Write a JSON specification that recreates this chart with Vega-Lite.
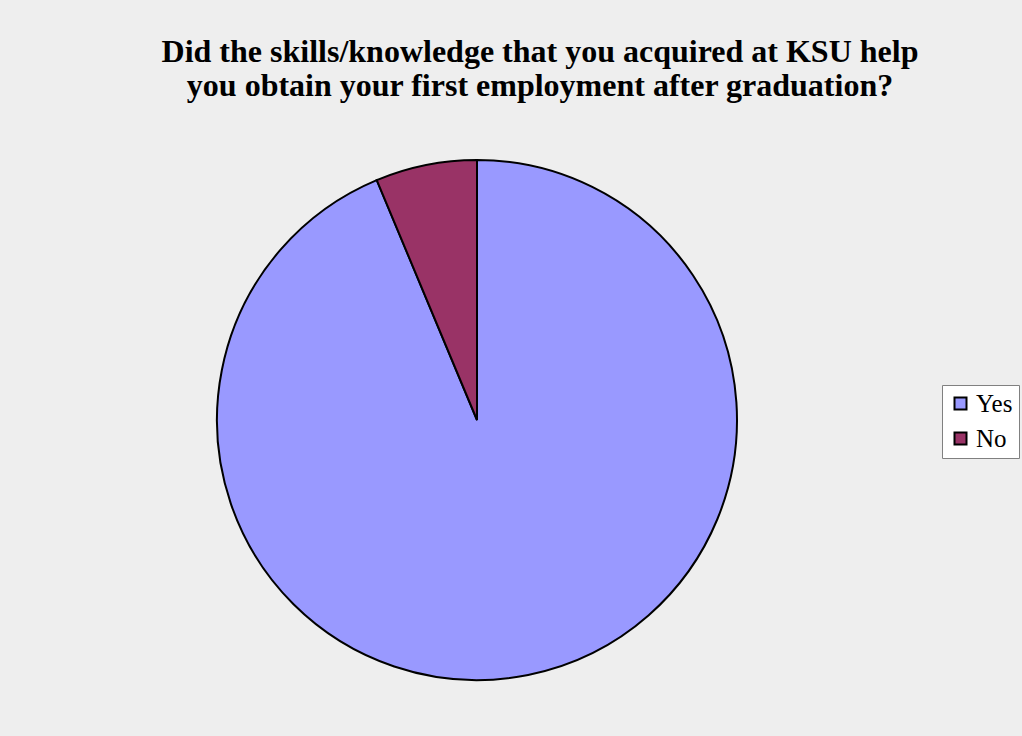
{
  "$schema": "https://vega.github.io/schema/vega-lite/v6.json",
  "width": 940,
  "height": 632,
  "autosize": {"type": "none"},
  "padding": {"left": 7, "top": 104, "right": 75, "bottom": 0},
  "background": "#EEEEEE",
  "title": {
    "text": ["Did the skills/knowledge that you acquired at KSU help", "you obtain your first employment after graduation?"],
    "font": "Liberation Serif",
    "fontSize": 32,
    "fontWeight": "bold",
    "color": "#000000",
    "anchor": "middle",
    "dx": 63,
    "offset": 1,
    "lineHeight": 34
  },
  "data": {
    "values": [
      {"answer": "Yes", "percent": 93.7},
      {"answer": "No", "percent": 6.3}
    ]
  },
  "mark": {"type": "arc", "outerRadius": 260, "stroke": "#000000", "strokeWidth": 2},
  "encoding": {
    "theta": {"field": "percent", "type": "quantitative", "stack": true},
    "order": {"field": "answer", "sort": "descending"},
    "color": {
      "field": "answer",
      "type": "nominal",
      "scale": {"domain": ["Yes", "No"], "range": ["#9999FF", "#993366"]},
      "legend": {
        "title": null,
        "orient": "none",
        "legendX": 935,
        "legendY": 281,
        "padding": 6,
        "fillColor": "#FFFFFF",
        "strokeColor": "#808080",
        "symbolType": "square",
        "symbolSize": 144,
        "symbolStrokeColor": "#000000",
        "symbolStrokeWidth": 2,
        "symbolOpacity": 1,
        "labelFont": "Liberation Serif",
        "labelFontSize": 25,
        "labelColor": "#000000",
        "labelOffset": 3,
        "rowPadding": 9
      }
    }
  },
  "config": {"view": {"stroke": null}}
}
